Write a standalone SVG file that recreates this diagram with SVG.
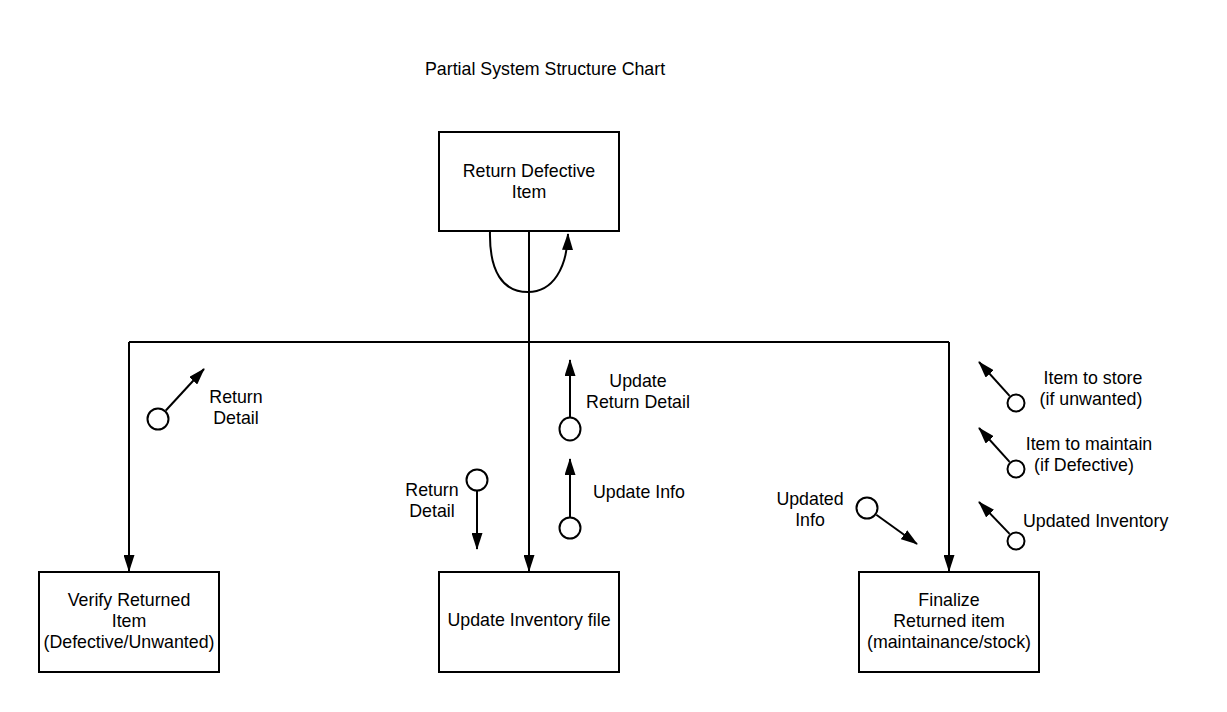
<svg xmlns="http://www.w3.org/2000/svg" width="1227" height="712" viewBox="0 0 1227 712">
<style>
.box{fill:#fff;stroke:#000;stroke-width:2}
.t{font-family:"Liberation Sans",Arial,sans-serif;font-size:17.8px;fill:#000}
.c{text-anchor:middle}
.ln{fill:none;stroke:#000;stroke-width:2}
.arr{fill:none;stroke:#000;stroke-width:2;marker-end:url(#ah)}
.cp{fill:#fff;stroke:#000;stroke-width:2}
</style>
<defs>
<marker id="ah" viewBox="0 0 17 11" refX="16" refY="5.5" markerWidth="17" markerHeight="11" markerUnits="userSpaceOnUse" orient="auto">
<path d="M0,0 L17,5.5 L0,11 z" fill="#000"/>
</marker>
</defs>
<rect width="1227" height="712" fill="#fff"/>
<text class="t" x="425" y="75">Partial System Structure Chart</text>

<g id="connectors">
<path class="arr" d="M490,231 C489,272 503,292 528,292 C553,292 567,268 568,234"/>
<line class="ln" x1="129" y1="342" x2="949" y2="342"/>
<line class="arr" x1="529" y1="231" x2="529" y2="571"/>
<line class="arr" x1="129" y1="342" x2="129" y2="571"/>
<line class="arr" x1="949" y1="342" x2="949" y2="571"/>
</g>

<g id="node-return-defective">
<rect class="box" x="439" y="132" width="180" height="99"/>
<text class="t c" x="529" y="177">Return Defective</text>
<text class="t c" x="529" y="198">Item</text>
</g>
<g id="node-verify">
<rect class="box" x="39" y="572" width="180" height="100"/>
<text class="t c" x="129" y="606">Verify Returned</text>
<text class="t c" x="129" y="627">Item</text>
<text class="t c" x="129" y="648">(Defective/Unwanted)</text>
</g>
<g id="node-update-inventory">
<rect class="box" x="439" y="572" width="180" height="100"/>
<text class="t c" x="529" y="626">Update Inventory file</text>
</g>
<g id="node-finalize">
<rect class="box" x="859" y="572" width="180" height="100"/>
<text class="t c" x="949" y="606">Finalize</text>
<text class="t c" x="949" y="627">Returned item</text>
<text class="t c" x="949" y="648">(maintainance/stock)</text>
</g>

<g id="couple-return-detail-1">
<line class="arr" x1="165.8" y1="410.5" x2="204" y2="369"/>
<circle class="cp" cx="158" cy="419" r="10.5"/>
<text class="t c" x="236" y="403">Return</text>
<text class="t c" x="236" y="424">Detail</text>
</g>
<g id="couple-update-return-detail">
<line class="arr" x1="570" y1="418" x2="570" y2="360"/>
<ellipse class="cp" cx="570" cy="429" rx="10.5" ry="11.5"/>
<text class="t c" x="638" y="387">Update</text>
<text class="t c" x="638" y="408">Return Detail</text>
</g>
<g id="couple-update-info">
<line class="arr" x1="570" y1="517" x2="570" y2="459"/>
<circle class="cp" cx="570" cy="528" r="10.5"/>
<text class="t" x="593" y="498">Update Info</text>
</g>
<g id="couple-return-detail-2">
<line class="arr" x1="477" y1="491" x2="477" y2="549"/>
<circle class="cp" cx="477" cy="480" r="10.5"/>
<text class="t c" x="432" y="496">Return</text>
<text class="t c" x="432" y="517">Detail</text>
</g>
<g id="couple-updated-info">
<line class="arr" x1="876.3" y1="514.7" x2="917" y2="544"/>
<circle class="cp" cx="867" cy="508" r="10.5"/>
<text class="t c" x="810" y="505">Updated</text>
<text class="t c" x="810" y="526">Info</text>
</g>
<g id="couple-item-store">
<line class="arr" x1="1009.6" y1="395.9" x2="979" y2="362"/>
<circle class="cp" cx="1016" cy="403" r="8.5"/>
<text class="t c" x="1093" y="384">Item to store</text>
<text class="t c" x="1091" y="405">(if unwanted)</text>
</g>
<g id="couple-item-maintain">
<line class="arr" x1="1009.6" y1="461.9" x2="979" y2="428"/>
<circle class="cp" cx="1016" cy="469" r="8.5"/>
<text class="t c" x="1089" y="450">Item to maintain</text>
<text class="t c" x="1084" y="471">(if Defective)</text>
</g>
<g id="couple-updated-inventory">
<line class="arr" x1="1009.6" y1="533.9" x2="979" y2="502"/>
<circle class="cp" cx="1016" cy="541" r="8.5"/>
<text class="t" x="1023" y="527">Updated Inventory</text>
</g>
</svg>
